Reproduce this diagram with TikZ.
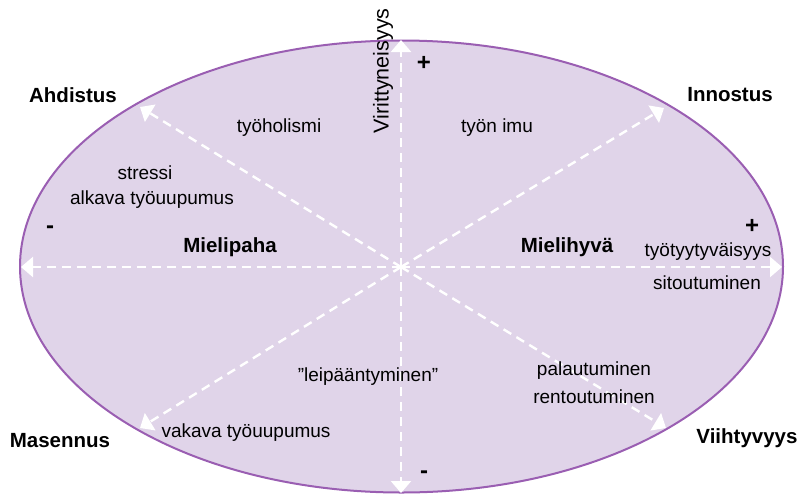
\documentclass[tikz,border=0pt]{standalone}
\usepackage{fontspec}
\setmainfont{Liberation Sans}
\usetikzlibrary{arrows.meta}
\definecolor{ovalfill}{HTML}{E0D4E9}
\definecolor{ovaledge}{HTML}{9A5EB2}
\begin{document}
\begin{tikzpicture}[x=1pt,y=-1pt,
  axis/.style={draw=white,line width=2.4pt,dash pattern=on 9pt off 6pt,
    -{Triangle[width=20pt,length=12pt]}},
  lbl/.style={font=\fontsize{19}{21}\selectfont,inner sep=0pt},
  hdr/.style={font=\bfseries\fontsize{20.5}{22}\selectfont,inner sep=0pt},
  sgn/.style={font=\bfseries\fontsize{24}{24}\selectfont,inner sep=0pt}]
\useasboundingbox (0,0) rectangle (800,496);
% the oval field
\filldraw[fill=ovalfill,draw=ovaledge,line width=2pt] (401.5,266.5) ellipse [x radius=381.5, y radius=226];
% centre and arrow ends
\coordinate (c) at (401,267);
\coordinate (up) at (401,40);
\coordinate (dn) at (401,493);
\coordinate (lf) at (21,267);
\coordinate (rt) at (782,267);
\coordinate (ul) at (140,107);
\coordinate (ur) at (664,108);
\coordinate (ll) at (140,428);
\coordinate (lr) at (666,428);
\foreach \e in {up,dn,lf,rt,ul,ur,ll,lr} \draw[axis] (c) -- (\e);
% axis names
\node[lbl,font=\fontsize{21.5}{22}\selectfont,rotate=90] (vir) at (383,71) {Virittyneisyys};
\node[hdr] (ahd) at (73,95) {Ahdistus};
\node[hdr] (inn) at (730,95) {Innostus};
\node[hdr] (mas) at (60,441) {Masennus};
\node[hdr] (vii) at (747,438) {Viihtyvyys};
\node[hdr] (mpa) at (230,247) {Mielipaha};
\node[hdr] (mhy) at (567,247) {Mielihyvä};
% signs
\node[sgn] (plt) at (424,63) {+};
\node[sgn] (plr) at (752,226) {+};
\node[sgn] (mil) at (50,230) {-};
\node[sgn] (mib) at (424,475) {-};
% states
\node[lbl] (hol) at (279,128) {työholismi};
\node[lbl] (imu) at (497,128) {työn imu};
\node[lbl] (str) at (145,173) {stressi};
\node[lbl] (alk) at (152,200) {alkava työuupumus};
\node[lbl] (tyy) at (708,252) {työtyytyväisyys};
\node[lbl] (sit) at (707,283) {sitoutuminen};
\node[lbl] (lei) at (368,377) {”leipääntyminen”};
\node[lbl] (pal) at (594,371) {palautuminen};
\node[lbl] (ren) at (594,397) {rentoutuminen};
\node[lbl] (vak) at (246,433) {vakava työuupumus};
\end{tikzpicture}
\end{document}
